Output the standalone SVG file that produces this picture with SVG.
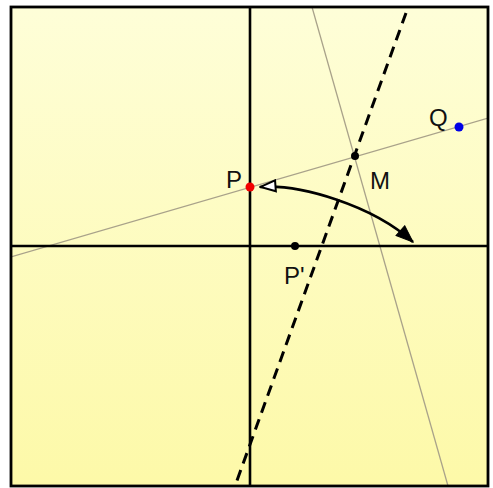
<svg xmlns="http://www.w3.org/2000/svg" width="493" height="488" viewBox="0 0 493 488">
<defs>
<linearGradient id="bg" x1="0" y1="0" x2="0" y2="1">
<stop offset="0" stop-color="#fefed8"/>
<stop offset="1" stop-color="#fdf9a8"/>
</linearGradient>
<marker id="headFilled" markerUnits="userSpaceOnUse" markerWidth="19" markerHeight="15" viewBox="0 0 19 15" refX="18" refY="7.5" orient="auto">
<path d="M1,1 L18,7.5 L1,14 z" fill="#000" stroke="#000" stroke-width="1"/>
</marker>
<marker id="headOpen" markerUnits="userSpaceOnUse" markerWidth="18" markerHeight="14" viewBox="0 0 18 14" refX="17" refY="7" orient="auto-start-reverse">
<path d="M1.5,1.5 L16.5,7 L1.5,12.5 z" fill="#fff" stroke="#000" stroke-width="2"/>
</marker>
<clipPath id="frameClip"><rect x="11" y="7" width="477" height="479"/></clipPath>
</defs>
<style>
.label{font-family:"Liberation Sans",Arial,sans-serif;font-size:24px;fill:#111}
.axis{stroke:#000;stroke-width:2.6;fill:none}
.thin{stroke:#a9a28a;stroke-width:1.3;fill:none}
.mirror{stroke:#000;stroke-width:3;stroke-dasharray:11 7;fill:none}
.arc{stroke:#000;stroke-width:2.6;fill:none}
</style>
<rect x="0" y="0" width="493" height="488" fill="#fff"/>
<rect x="11" y="7" width="477" height="479" fill="url(#bg)"/>
<g id="connectors" clip-path="url(#frameClip)">
<line id="line-PQ" class="thin" x1="11" y1="257" x2="488" y2="118"/>
<line id="line-perp" class="thin" x1="312" y1="7" x2="448" y2="486"/>
<line id="axis-v" class="axis" x1="250" y1="7" x2="250" y2="486"/>
<line id="axis-h" class="axis" x1="11" y1="246" x2="488" y2="246"/>
<line id="mirror" class="mirror" x1="406" y1="13" x2="235" y2="486"/>
<path id="rotation" class="arc" d="M260,187 C300,184 372,205 413,242" marker-start="url(#headOpen)" marker-end="url(#headFilled)"/>
</g>
<rect x="11" y="7" width="477" height="479" fill="none" stroke="#000" stroke-width="2.8"/>
<g id="node-P">
<circle cx="250" cy="187" r="4.5" fill="#f20000"/>
<text class="label" x="226" y="188">P</text>
</g>
<g id="node-Q">
<circle cx="459" cy="127" r="4.5" fill="#0000e6"/>
<text class="label" x="429" y="126">Q</text>
</g>
<g id="node-M">
<circle cx="355" cy="156" r="4" fill="#000"/>
<text class="label" x="370" y="189">M</text>
</g>
<g id="node-Pprime">
<circle cx="295" cy="246" r="4" fill="#000"/>
<text class="label" x="284" y="284">P'</text>
</g>
</svg>
